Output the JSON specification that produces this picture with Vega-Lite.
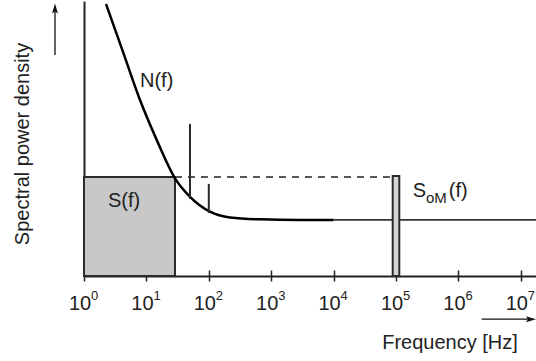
{
  "$schema": "https://vega.github.io/schema/vega-lite/v6.json",
  "width": 452,
  "height": 275,
  "autosize": "none",
  "padding": {"left": 84, "top": 1, "right": 0, "bottom": 85},
  "background": "white",
  "config": {"view": {"stroke": null}, "font": "Liberation Sans"},
  "datasets": {
    "curve": [
      {"f": 2.253, "v": 98.9},
      {"f": 4.217, "v": 81.5},
      {"f": 7.9, "v": 64.0},
      {"f": 14.62, "v": 49.5},
      {"f": 28.7, "v": 35.5},
      {"f": 50.0, "v": 28.8},
      {"f": 104.5, "v": 23.4},
      {"f": 218.6, "v": 21.3},
      {"f": 662, "v": 20.6},
      {"f": 2887, "v": 20.4},
      {"f": 10000, "v": 20.4}
    ],
    "blocks": [
      {"name": "S", "f1": 1, "f2": 28.7, "v1": 0, "v2": 36.0},
      {"name": "SoM", "f1": 88500, "f2": 112900, "v1": 0, "v2": 36.4}
    ],
    "spurs": [
      {"f": 50, "v1": 28.0, "v2": 55.3},
      {"f": 100, "v1": 22.9, "v2": 33.5}
    ],
    "dashed": [{"f1": 28.7, "f2": 88500, "v": 36.0}],
    "floor": [{"f1": 10000, "f2": 17520000, "v": 20.4}],
    "labels": [
      {"text": "N(f)", "kind": "main", "f": 7.9, "v": 68.7},
      {"text": "S(f)", "kind": "main", "f": 2.424, "v": 25.1},
      {"text": "S", "kind": "main", "f": 185300, "v": 28.6},
      {"text": "oM", "kind": "sub", "f": 302700, "v": 26.4},
      {"text": "(f)", "kind": "main", "f": 699500, "v": 28.6}
    ],
    "arrowlines": [
      {"f1": 0.343, "f2": 0.343, "v1": 80.4, "v2": 97.0},
      {"f1": 2360000, "f2": 14560000, "v1": -15.7, "v2": -15.7}
    ],
    "arrowheads": [
      {"dir": "up", "f": 0.343, "v": 97.3},
      {"dir": "right", "f": 14560000, "v": -15.7}
    ]
  },
  "resolve": {"axis": {"x": "independent", "y": "independent"}},
  "layer": [
    {
      "data": {"name": "floor"},
      "mark": {"type": "rule", "color": "#333333", "strokeWidth": 1.6},
      "encoding": {
        "x": {"field": "f1", "type": "quantitative", "scale": {"type": "log", "domain": [1, 17520000], "nice": false}, "axis": null},
        "x2": {"field": "f2"},
        "y": {"field": "v", "type": "quantitative", "scale": {"domain": [0, 100], "nice": false}, "axis": null}
      }
    },
    {
      "data": {"name": "dashed"},
      "mark": {"type": "rule", "color": "#222222", "strokeWidth": 1.3, "strokeDash": [7, 6]},
      "encoding": {
        "x": {"field": "f1", "type": "quantitative", "scale": {"type": "log", "domain": [1, 17520000], "nice": false}, "axis": null},
        "x2": {"field": "f2"},
        "y": {"field": "v", "type": "quantitative", "scale": {"domain": [0, 100], "nice": false}, "axis": null}
      }
    },
    {
      "data": {"name": "blocks"},
      "transform": [{"filter": "datum.name === 'S'"}],
      "mark": {"type": "rect", "fill": "#c8c8c8", "stroke": "#2a2a2a", "strokeWidth": 2},
      "encoding": {
        "x": {
          "field": "f1", "type": "quantitative",
          "scale": {"type": "log", "domain": [1, 17520000], "nice": false},
          "axis": {
            "orient": "bottom",
            "values": [1, 10, 100, 1000, 10000, 100000, 1000000, 10000000],
            "labelExpr": "'10'",
            "labelFontSize": 20,
            "labelColor": "#222222",
            "labelOffset": -4.5,
            "labelBaseline": "alphabetic",
            "labelPadding": 28,
            "labelFlush": false,
            "labelOverlap": false,
            "labelBound": false,
            "tickSize": 5,
            "tickWidth": 1.5,
            "tickColor": "#222222",
            "domainWidth": 2,
            "domainColor": "#222222",
            "grid": false,
            "title": "Frequency [Hz]",
            "titleFontSize": 20,
            "titleFontWeight": "normal",
            "titleColor": "#222222",
            "titleAlign": "center",
            "titleBaseline": "alphabetic",
            "titleX": 365.5,
            "titleY": 72.3
          }
        },
        "x2": {"field": "f2"},
        "y": {
          "field": "v1", "type": "quantitative",
          "scale": {"domain": [0, 100], "nice": false},
          "axis": {
            "orient": "left",
            "ticks": false,
            "labels": false,
            "grid": false,
            "domainWidth": 2,
            "domainColor": "#222222",
            "title": "Spectral power density",
            "titleFontSize": 20,
            "titleFontWeight": "normal",
            "titleColor": "#222222",
            "titleAngle": -90,
            "titleAlign": "center",
            "titleBaseline": "alphabetic",
            "titleX": -55.7,
            "titleY": 142.5
          }
        },
        "y2": {"field": "v2"}
      }
    },
    {
      "data": {"name": "curve"},
      "mark": {"type": "line", "color": "#000000", "strokeWidth": 2.5, "interpolate": "monotone"},
      "encoding": {
        "x": {"field": "f", "type": "quantitative", "scale": {"type": "log", "domain": [1, 17520000], "nice": false}, "axis": null},
        "y": {"field": "v", "type": "quantitative", "scale": {"domain": [0, 100], "nice": false}, "axis": null}
      }
    },
    {
      "data": {"name": "spurs"},
      "mark": {"type": "rule", "color": "#2a2a2a", "strokeWidth": 2},
      "encoding": {
        "x": {"field": "f", "type": "quantitative", "scale": {"type": "log", "domain": [1, 17520000], "nice": false}, "axis": null},
        "y": {"field": "v1", "type": "quantitative", "scale": {"domain": [0, 100], "nice": false}, "axis": null},
        "y2": {"field": "v2"}
      }
    },
    {
      "data": {"name": "blocks"},
      "transform": [{"filter": "datum.name === 'SoM'"}],
      "mark": {"type": "rect", "fill": "#d4d4d4", "stroke": "#2a2a2a", "strokeWidth": 2},
      "encoding": {
        "x": {
          "field": "f1", "type": "quantitative",
          "scale": {"type": "log", "domain": [1, 17520000], "nice": false},
          "axis": {
            "orient": "bottom",
            "values": [1, 10, 100, 1000, 10000, 100000, 1000000, 10000000],
            "labelExpr": "format(round(log(datum.value) / LN10), 'd')",
            "labelFontSize": 13,
            "labelColor": "#222222",
            "labelAlign": "left",
            "labelOffset": 6.5,
            "labelBaseline": "alphabetic",
            "labelPadding": 29.3,
            "labelFlush": false,
            "labelOverlap": false,
            "labelBound": false,
            "tickSize": -6,
            "tickWidth": 1.5,
            "tickColor": "#222222",
            "domain": false,
            "grid": false,
            "title": null
          }
        },
        "x2": {"field": "f2"},
        "y": {"field": "v1", "type": "quantitative", "scale": {"domain": [0, 100], "nice": false}, "axis": null},
        "y2": {"field": "v2"}
      }
    },
    {
      "data": {"name": "labels"},
      "transform": [{"filter": "datum.kind === 'main'"}],
      "mark": {"type": "text", "fontSize": 20, "align": "left", "baseline": "alphabetic", "color": "#222222"},
      "encoding": {
        "x": {"field": "f", "type": "quantitative", "scale": {"type": "log", "domain": [1, 17520000], "nice": false}, "axis": null},
        "y": {"field": "v", "type": "quantitative", "scale": {"domain": [0, 100], "nice": false}, "axis": null},
        "text": {"field": "text"}
      }
    },
    {
      "data": {"name": "labels"},
      "transform": [{"filter": "datum.kind === 'sub'"}],
      "mark": {"type": "text", "fontSize": 15, "align": "left", "baseline": "alphabetic", "color": "#222222"},
      "encoding": {
        "x": {"field": "f", "type": "quantitative", "scale": {"type": "log", "domain": [1, 17520000], "nice": false}, "axis": null},
        "y": {"field": "v", "type": "quantitative", "scale": {"domain": [0, 100], "nice": false}, "axis": null},
        "text": {"field": "text"}
      }
    },
    {
      "data": {"name": "arrowlines"},
      "mark": {"type": "rule", "color": "#111111", "strokeWidth": 1.3},
      "encoding": {
        "x": {"field": "f1", "type": "quantitative", "scale": {"type": "log", "domain": [1, 17520000], "nice": false}, "axis": null},
        "x2": {"field": "f2"},
        "y": {"field": "v1", "type": "quantitative", "scale": {"domain": [0, 100], "nice": false}, "axis": null},
        "y2": {"field": "v2"}
      }
    },
    {
      "data": {"name": "arrowheads"},
      "mark": {"type": "point", "filled": true, "color": "#111111", "size": 100, "strokeWidth": 0, "opacity": 1},
      "encoding": {
        "x": {"field": "f", "type": "quantitative", "scale": {"type": "log", "domain": [1, 17520000], "nice": false}, "axis": null},
        "y": {"field": "v", "type": "quantitative", "scale": {"domain": [0, 100], "nice": false}, "axis": null},
        "shape": {
          "field": "dir", "type": "nominal",
          "scale": {"domain": ["up", "right"], "range": ["M0,-1L0.6,1L0,0.6L-0.6,1Z", "M1,0L-1,-0.6L-0.6,0L-1,0.6Z"]},
          "legend": null
        }
      }
    }
  ]
}
